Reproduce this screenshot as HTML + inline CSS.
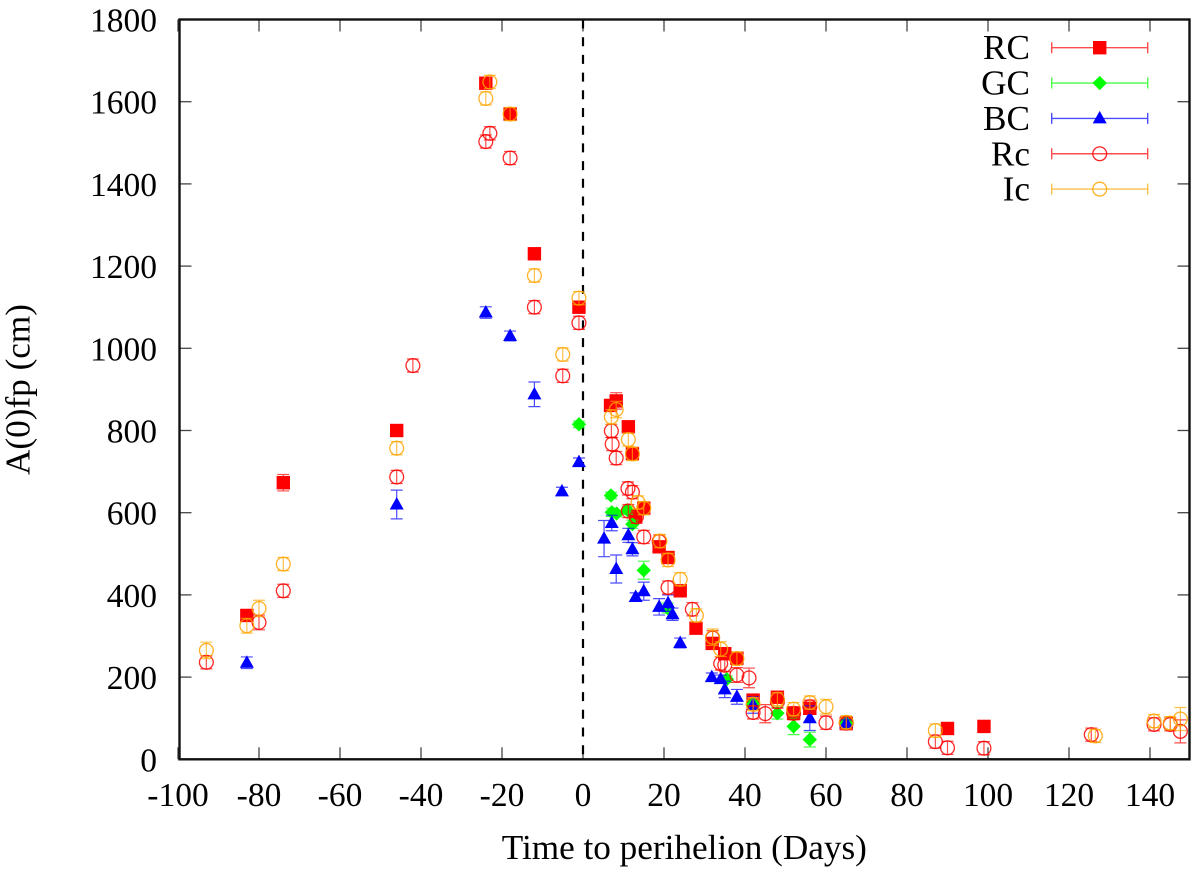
<!DOCTYPE html>
<html lang="en">
<head>
<meta charset="utf-8">
<title>A(0)fp vs time to perihelion</title>
<style>
html,body{margin:0;padding:0;background:#fff;}
svg{display:block;}
text{font-family:"Liberation Serif",serif;font-size:33.5px;fill:#000;}
.big{font-size:35.2px;}
</style>
</head>
<body>
<svg id="chart" width="1200" height="878" viewBox="0 0 1200 878" xmlns="http://www.w3.org/2000/svg">
<rect x="0" y="0" width="1200" height="878" fill="#fff"/>
<g id="ticks"></g>
<line id="zero" stroke="#000" stroke-width="2.2" stroke-dasharray="9 8.7"/>
<g id="marks"></g>
<rect id="frame" fill="none" stroke="#111" stroke-width="2.4"/>
<g id="labels"></g>
<text class="big" x="684.3" y="859" text-anchor="middle">Time to perihelion (Days)</text>
<text class="big" transform="translate(29.5,389.5) rotate(-90)" text-anchor="middle">A(0)fp (cm)</text>
<g id="legend"></g>
</svg>
<script>
const xTicks = [-100,-80,-60,-40,-20,0,20,40,60,80,100,120,140];
const yTicks = [0,200,400,600,800,1000,1200,1400,1600,1800];
const seriesNames = ['RC','GC','BC','Rc','Ic'];

const rcDays = [-83,-74,-46,-24,-18,-12,-1,6.8,8.2,11.2,12.2,13,15,18.8,21,24,27.9,31.9,35,38,42,48,52,56,65,90,99];
const rcValues = [350,673,800,1645,1570,1230,1100,861,872,809,744,591,611,517,491,410,319,282,257,246,144,151,112,124,87,75,80];
const rcErrors = [8,20,8,8,8,6,6,12,20,8,8,8,8,10,10,10,8,8,8,8,8,8,8,8,8,5,5];

const gcDays = [-1,6.9,7.1,8.3,11,12.2,15,20.9,35.5,42,48,52,56,65];
const gcValues = [815,642,601,598,606,572,460,368,195,135,112,80,48,88];
const gcErrors = [8,8,10,8,10,10,22,12,8,8,14,20,18,8];

const bcDays = [-83,-46,-24,-18,-12,-5.2,-1,5.2,7.1,8.2,11.2,12.2,13,15,18.8,21,22.1,24,31.8,34,35,38,42,56,65];
const bcValues = [235,620,1087,1030,888,652,723,537,575,463,545,511,395,409,371,380,353,283,200,195,170,152,132,100,88];
const bcErrors = [14,35,14,12,30,10,10,44,19,34,17,16,10,22,20,20,15,12,10,10,20,18,20,30,8];

const rcLowerDays = [-93,-80,-74,-46,-42,-24,-23,-18,-12,-5,-1,7,7.2,8.2,11.1,12.2,11.2,13.2,15,18.8,21,27,32,34,35,38,41,42,45,48,52,56,60,65,87,90,99,125.5,141,145,147.5];
const rcLowerValues = [236,333,410,687,958,1503,1523,1463,1100,933,1062,799,767,733,659,650,604,590,541,530,418,365,295,233,229,205,198,114,111,140,112,128,89,88,43,28,27,60,85,85,68];
const rcLowerErrors = [16,18,16,16,16,16,16,16,16,16,16,16,16,16,16,16,16,16,16,16,16,16,18,16,16,18,24,16,22,16,16,16,16,16,16,16,16,16,16,16,28];

const icDays = [-93,-83,-80,-74,-46,-24,-23,-18,-12,-5,-1,7,8.2,11.2,12.2,13.6,15,19,21,24,28,32,34,38,42,48,52,56,60,65,87,126.5,141,145,147.5];
const icValues = [265,325,367,475,757,1608,1648,1570,1177,985,1122,833,851,778,743,625,611,531,485,438,350,297,268,245,134,146,122,138,128,90,70,57,93,88,98];
const icErrors = [20,18,20,16,16,16,16,16,16,16,16,18,20,16,16,16,16,16,16,16,16,20,18,16,16,16,16,16,18,16,16,16,16,16,28];

const NS = 'http://www.w3.org/2000/svg';
const plotLeft = 179.5, plotRight = 1189.5, plotTop = 19.5, plotBottom = 759.3;
const xScale = d => 583 + d * 4.05;
const yScale = v => plotBottom - (v / 1800) * (plotBottom - plotTop);

function make(tag, attrs, parent) {
  const el = document.createElementNS(NS, tag);
  for (const k in attrs) el.setAttribute(k, attrs[k]);
  parent.appendChild(el);
  return el;
}

const ticksG = document.getElementById('ticks');
const labelsG = document.getElementById('labels');

xTicks.forEach(t => {
  const x = xScale(t);
  const bottomTick = make('line', {x1:x, x2:x, y1:plotBottom, y2:plotBottom-12, stroke:'#444', 'stroke-width':1.3}, ticksG);
  
  
  const topTick = make('line', {x1:x, x2:x, y1:plotTop, y2:plotTop+12, stroke:'#444', 'stroke-width':1.3}, ticksG);
  
  
  const label = make('text', {x:x, y:806, 'text-anchor':'middle'}, labelsG);
  label.textContent = t;
  
  
});

yTicks.forEach(t => {
  const y = yScale(t);
  const leftTick = make('line', {x1:plotLeft, x2:plotLeft+12, y1:y, y2:y, stroke:'#444', 'stroke-width':1.3}, ticksG);
  
  
  const rightTick = make('line', {x1:plotRight, x2:plotRight-12, y1:y, y2:y, stroke:'#444', 'stroke-width':1.3}, ticksG);
  
  
  const label = make('text', {x:157, y:y+12, 'text-anchor':'end'}, labelsG);
  label.textContent = t;
  
  
});

const zero = document.getElementById('zero');
zero.setAttribute('x1', xScale(0));
zero.setAttribute('x2', xScale(0));
zero.setAttribute('y1', plotTop);
zero.setAttribute('y2', plotBottom);

const frame = document.getElementById('frame');
frame.setAttribute('x', plotLeft);
frame.setAttribute('y', plotTop);
frame.setAttribute('width', plotRight - plotLeft);
frame.setAttribute('height', plotBottom - plotTop);

const seriesColors = {RC:'#ff0000', GC:'#00ff00', BC:'#0000ff', Rc:'#ff0000', Ic:'#ffa500'};
const seriesShapes = {RC:'square', GC:'diamond', BC:'triangle', Rc:'circle', Ic:'circle'};

function drawMarker(shape, color, x, y, parent) {
  if (shape === 'square') {
    return make('rect', {x:x-6.7, y:y-6.7, width:13.4, height:13.4, fill:color}, parent);
  }
  if (shape === 'diamond') {
    return make('polygon', {points:[x,y-7.2,x+7.2,y,x,y+7.2,x-7.2,y].join(' '), fill:color}, parent);
  }
  if (shape === 'triangle') {
    return make('polygon', {points:[x,y-7.5,x+7,y+5,x-7,y+5].join(' '), fill:color}, parent);
  }
  return make('circle', {cx:x, cy:y, r:6.9, fill:'none', stroke:color, 'stroke-width':1.3, 'stroke-opacity':0.85}, parent);
}

function drawSeries(name, days, values, errors) {
  const color = seriesColors[name];
  const shape = seriesShapes[name];
  const g = make('g', {}, document.getElementById('marks'));
  
  
  days.forEach((d, i) => {
    const x = xScale(d);
    const y = yScale(values[i]);
    const yHi = yScale(values[i] + errors[i]);
    const yLo = yScale(values[i] - errors[i]);
    const path = 'M' + x + ' ' + yHi + 'V' + yLo +
      'M' + (x-6) + ' ' + yHi + 'H' + (x+6) +
      'M' + (x-6) + ' ' + yLo + 'H' + (x+6);
    const bar = make('path', {d:path, fill:'none', stroke:color, 'stroke-width':1.2, 'stroke-opacity':0.7}, g);
    
    
    const marker = drawMarker(shape, color, x, y, g);
    
    
  });
}

drawSeries('RC', rcDays, rcValues, rcErrors);
drawSeries('GC', gcDays, gcValues, gcErrors);
drawSeries('BC', bcDays, bcValues, bcErrors);
drawSeries('Rc', rcLowerDays, rcLowerValues, rcLowerErrors);
drawSeries('Ic', icDays, icValues, icErrors);

const legendG = document.getElementById('legend');
seriesNames.forEach((name, i) => {
  const y = 47.7 + i * 35.35;
  const color = seriesColors[name];
  const row = make('g', {}, legendG);
  
  
  const text = make('text', {x:1030, y:y+11.5, 'text-anchor':'end', 'class':'big'}, row);
  text.textContent = name;
  
  
  const path = 'M1051.7 ' + y + 'H1147.7M1051.7 ' + (y-5.5) + 'V' + (y+5.5) + 'M1147.7 ' + (y-5.5) + 'V' + (y+5.5);
  const line = make('path', {d:path, fill:'none', stroke:color, 'stroke-width':1.4, 'stroke-opacity':0.7}, row);
  
  
  const marker = drawMarker(seriesShapes[name], color, 1099.7, y, row);
  
  
});
</script>
</body>
</html>
